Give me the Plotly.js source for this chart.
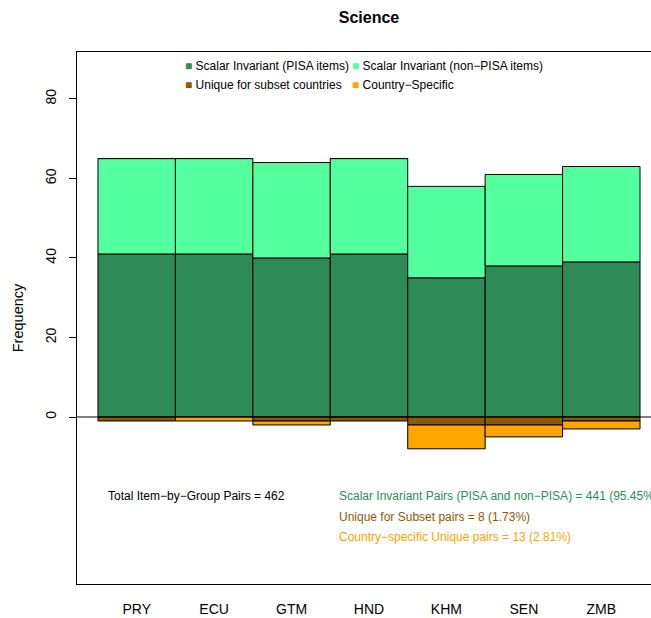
<!DOCTYPE html>
<html>
<head>
<meta charset="utf-8">
<script src="https://cdn.plot.ly/plotly-3.0.1.min.js"></script>
<style>
  html, body { margin: 0; padding: 0; overflow: hidden; background: #fff; }
  #chart { width: 661px; height: 618px; }
</style>
</head>
<body>
<div id="chart"></div>
<script>
// Item-by-group pair counts for the Science domain, per country
const countries = ['PRY', 'ECU', 'GTM', 'HND', 'KHM', 'SEN', 'ZMB'];
const scalarPisa = [41, 41, 40, 41, 35, 38, 39];
const scalarNonPisa = [24, 24, 24, 24, 23, 23, 24];
const uniqueSubset = [1, 0, 1, 1, 2, 2, 1];
const countrySpecific = [0, 1, 1, 0, 6, 3, 2];

const seriesNames = [
  'Scalar Invariant (PISA items)',
  'Scalar Invariant (non\u2212PISA items)',
  'Unique for subset countries',
  'Country\u2212Specific'
];
const seriesColors = ['#2E8B57', '#54FF9F', '#8B5A00', '#FFA500'];
const yTicks = [0, 20, 40, 60, 80];

const FONT = 'Liberation Sans, Arial, Helvetica, sans-serif';
const W = 661, H = 618;
const M = { l: 77, r: 0, t: 52, b: 34 };
const plotW = W - M.l - M.r, plotH = H - M.t - M.b;
const px = x => (x - M.l) / plotW;
const py = y => (H - M.b - y) / plotH;

const neg = arr => arr.map(v => -v);
const sum = arr => arr.reduce((a, b) => a + b, 0);

const seriesValues = [scalarPisa, scalarNonPisa, neg(uniqueSubset), neg(countrySpecific)];
const traces = seriesValues.map((vals, i) => ({
  type: 'bar',
  name: seriesNames[i],
  x: countries,
  y: vals,
  showlegend: false,
  hoverinfo: 'skip',
  marker: { color: seriesColors[i], line: { color: '#000', width: 1 } }
}));

// Summary totals
const nScalar = sum(scalarPisa) + sum(scalarNonPisa);
const nSubset = sum(uniqueSubset);
const nSpecific = sum(countrySpecific);
const nTotal = nScalar + nSubset + nSpecific;
const pct = n => (100 * n / nTotal).toFixed(2) + '%';

const annotations = [];
// Key entries, two per row
const keyPos = [[183, 66], [350, 66], [183, 85], [350, 85]];
seriesNames.forEach((name, i) => {
  annotations.push({
    xref: 'paper', yref: 'paper',
    x: px(keyPos[i][0]), y: py(keyPos[i][1]),
    xanchor: 'left', yanchor: 'middle', showarrow: false,
    text: '<span style="color:' + seriesColors[i] + '">\u25A0</span> ' + name,
    font: { family: FONT, size: 12, color: '#000' }
  });
});

const summary = [
  ['Total Item\u2212by\u2212Group Pairs = ' + nTotal, '#000', 106, 496],
  ['Scalar Invariant Pairs (PISA and non\u2212PISA) = ' + nScalar + ' (' + pct(nScalar) + ')', seriesColors[0], 337, 496],
  ['Unique for Subset pairs = ' + nSubset + ' (' + pct(nSubset) + ')', seriesColors[2], 337, 517],
  ['Country\u2212specific Unique pairs = ' + nSpecific + ' (' + pct(nSpecific) + ')', seriesColors[3], 337, 537]
];
summary.forEach(([text, color, x, y]) => {
  annotations.push({
    xref: 'paper', yref: 'paper', x: px(x), y: py(y),
    xanchor: 'left', yanchor: 'middle', showarrow: false,
    text: text, font: { family: FONT, size: 12, color: color }
  });
});

const layout = {
  width: W, height: H,
  margin: M,
  paper_bgcolor: '#fff', plot_bgcolor: '#fff',
  font: { family: FONT, size: 14, color: '#000' },
  barmode: 'relative',
  bargap: 0,
  showlegend: false,
  title: {
    text: '<b>Science</b>',
    font: { family: FONT, size: 16, color: '#000' },
    x: 0.5, xref: 'paper', xanchor: 'center',
    y: 1 - 17 / H, yref: 'container', yanchor: 'middle'
  },
  xaxis: {
    range: [-0.771, 6.771],
    showgrid: false, zeroline: false,
    showline: true, mirror: true, linecolor: '#000', linewidth: 1,
    ticks: 'outside', ticklen: 12, tickcolor: 'rgba(0,0,0,0)',
    tickfont: { family: FONT, size: 14, color: '#000' },
    fixedrange: true
  },
  yaxis: {
    range: [-42, 91.8],
    tickvals: yTicks,
    ticktext: yTicks.map(String),
    tickangle: -90,
    showgrid: false, zeroline: false,
    showline: true, mirror: true, linecolor: '#000', linewidth: 1,
    ticks: 'outside', ticklen: 7, tickcolor: '#000',
    ticklabelstandoff: 7,
    tickfont: { family: FONT, size: 14, color: '#000' },
    title: { text: 'Frequency', font: { family: FONT, size: 14.5, color: '#000' }, standoff: 16 },
    fixedrange: true
  },
  shapes: [{
    type: 'line', xref: 'paper', yref: 'y', x0: 0, x1: 1, y0: 0, y1: 0,
    line: { color: '#000', width: 1 }, layer: 'above'
  }],
  annotations: annotations
};

Plotly.newPlot('chart', traces, layout, { staticPlot: true, displayModeBar: false });
</script>
</body>
</html>
